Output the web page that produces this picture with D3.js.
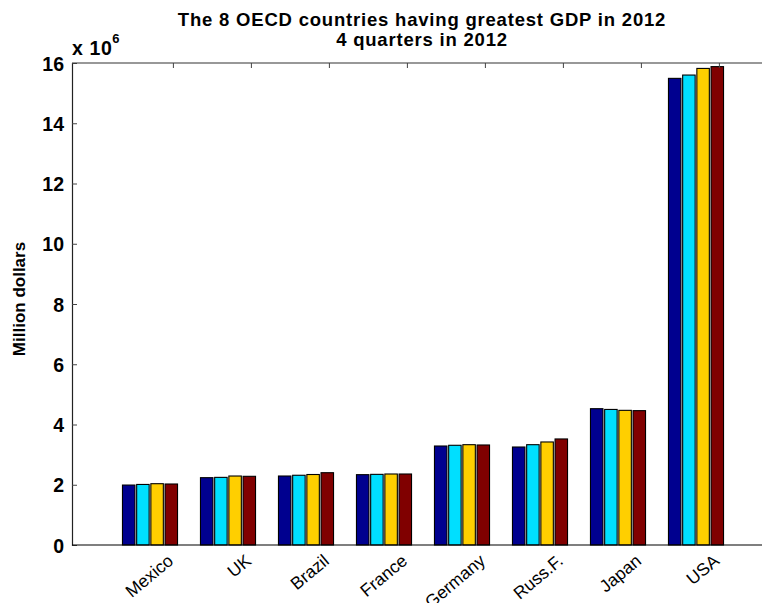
<!DOCTYPE html>
<html>
<head>
<meta charset="utf-8">
<script src="https://cdn.jsdelivr.net/npm/d3@7"></script>
<style>
  html, body { margin: 0; padding: 0; background: #fff; overflow: hidden; }
  svg { display: block; font-family: "Liberation Sans", Arial, Helvetica, sans-serif; }
</style>
</head>
<body>
<svg id="chart" width="762" height="603"></svg>
<script>
// GDP by quarter (million dollars) for the eight largest OECD economies, 2012
const countries = ["Mexico", "UK", "Brazil", "France", "Germany", "Russ.F.", "Japan", "USA"];
const q1 = [1990000, 2235000, 2290000, 2335000, 3286000, 3253000, 4525000, 15490000];
const q2 = [2010000, 2245000, 2315000, 2345000, 3310000, 3330000, 4500000, 15600000];
const q3 = [2035000, 2290000, 2340000, 2357000, 3330000, 3420000, 4470000, 15820000];
const q4 = [2025000, 2280000, 2400000, 2357000, 3320000, 3520000, 4460000, 15880000];
const quarterColors = ["#00008F", "#00DFFF", "#FFCF00", "#800000"];
const yTicks = [0, 2, 4, 6, 8, 10, 12, 14, 16];

const series = [q1, q2, q3, q4];
const svg = d3.select("#chart");

const plotLeft = 72, plotTop = 63, plotBottom = 545;
const slot = 78;               // pixels per category slot
const x = d3.scaleLinear().domain([0, countries.length + 1]).range([plotLeft, plotLeft + slot * (countries.length + 1)]);
const y = d3.scaleLinear().domain([0, 16e6]).range([plotBottom, plotTop]);

const barW = 0.16, barStep = 0.182;

// bars
series.forEach((vals, s) => {
  svg.append("g").selectAll("rect")
    .data(vals)
    .join("rect")
    .attr("x", (d, i) => x(i + 1 + (s - 1.5) * barStep - barW / 2))
    .attr("y", d => y(d))
    .attr("width", x(barW) - x(0))
    .attr("height", d => y(0) - y(d))
    .attr("fill", quarterColors[s])
    .attr("stroke", "#000")
    .attr("stroke-width", 1.1);
});

// y axis
const yAxis = d3.axisLeft(y).tickValues(yTicks.map(t => t * 1e6)).tickSize(-5).tickFormat(d => d / 1e6);
const gy = svg.append("g").attr("transform", `translate(${plotLeft},0)`).call(yAxis);
gy.select(".domain").attr("stroke", "#222").attr("stroke-width", 1.2);
gy.selectAll(".tick line").attr("stroke", "#444");
gy.selectAll(".tick text")
  .attr("x", -8).attr("dy", "0.36em")
  .attr("font-size", 19.5).attr("font-weight", "bold").attr("fill", "#000");

const tickPos = countries.map((c, i) => i + 1.3);

// bottom axis line and top frame with tick marks
svg.append("line").attr("x1", plotLeft).attr("x2", 762).attr("y1", plotBottom).attr("y2", plotBottom)
  .attr("stroke", "#000").attr("stroke-width", 1.2);
svg.append("line").attr("x1", plotLeft).attr("x2", 762).attr("y1", plotTop).attr("y2", plotTop)
  .attr("stroke", "#333").attr("stroke-width", 1.2);
svg.append("g").selectAll("line").data(tickPos).join("line")
  .attr("x1", d => x(d)).attr("x2", d => x(d))
  .attr("y1", plotTop).attr("y2", plotTop + 5)
  .attr("stroke", "#444");

// category labels
svg.append("g").selectAll("text").data(countries).join("text")
  .attr("transform", (d, i) => `translate(${x(tickPos[i]) - 3},${plotBottom + 13}) rotate(-40)`)
  .attr("text-anchor", "end")
  .attr("dy", "0.35em")
  .attr("font-size", 17.5)
  .attr("fill", "#000")
  .text(d => d);

// exponent marker
const ex = svg.append("text").attr("x", 72).attr("y", 55)
  .attr("font-size", 19.5).attr("font-weight", "bold").attr("letter-spacing", 0.6).attr("fill", "#000");
ex.append("tspan").text("x 10");
ex.append("tspan").attr("font-size", 13).attr("dy", -12).attr("dx", 0).text("6");

// y label
svg.append("text")
  .attr("transform", "translate(25,299) rotate(-90)")
  .attr("text-anchor", "middle")
  .attr("font-size", 17).attr("font-weight", "bold").attr("fill", "#000")
  .text("Million dollars");

// title
svg.append("text").attr("x", 422).attr("y", 26).attr("text-anchor", "middle")
  .attr("font-size", 18.5).attr("letter-spacing", 0.8).attr("font-weight", "bold").attr("fill", "#000")
  .text("The 8 OECD countries having greatest GDP in 2012");
svg.append("text").attr("x", 422).attr("y", 46).attr("text-anchor", "middle")
  .attr("font-size", 18.5).attr("letter-spacing", 0.8).attr("font-weight", "bold").attr("fill", "#000")
  .text("4 quarters in 2012");
</script>
</body>
</html>
